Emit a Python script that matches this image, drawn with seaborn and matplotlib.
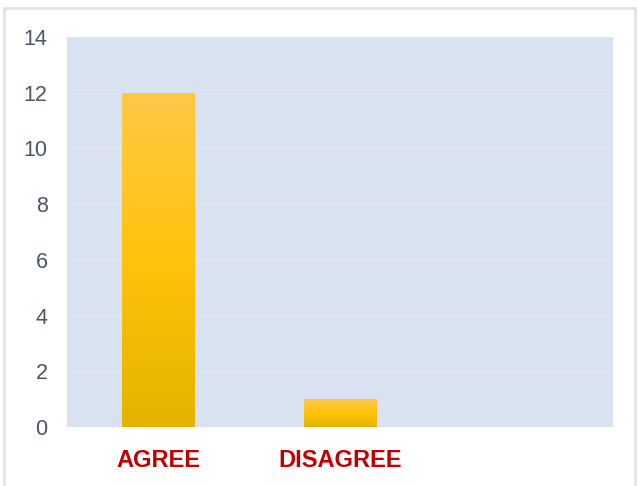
import numpy as np
import pandas as pd
import seaborn as sns
import matplotlib.pyplot as plt
from matplotlib.patches import Rectangle
from matplotlib.colors import LinearSegmentedColormap

categories = ["AGREE", "DISAGREE", ""]
counts = [12, 1, 0]
y_ticks = [0, 2, 4, 6, 8, 10, 12, 14]

df = pd.DataFrame({"answer": categories, "count": counts})

sns.set_theme(style="white")
plt.rcParams["font.family"] = ["Liberation Sans", "DejaVu Sans"]

fig = plt.figure(figsize=(6.38, 4.86), dpi=100)
ax = fig.add_axes([67 / 638, 59 / 486, 546 / 638, 390 / 486])

# thin frame around the whole picture
fig.patches.append(Rectangle((4 / 638, -0.05), 631 / 638, 1.05 - 8 / 486,
                             transform=fig.transFigure, fill=False,
                             edgecolor="#E3E3E6", linewidth=2))

ax.set_facecolor("#D9E2F1")
sns.barplot(data=df, x="answer", y="count", order=categories, width=0.4,
            color="#FFC000", linewidth=0, ax=ax, zorder=2)

# vertical gradient inside each bar
grad = LinearSegmentedColormap.from_list("g", ["#E4B300", "#FFC30A", "#FFC847"])
for p in ax.patches:
    h = p.get_height()
    if h <= 0:
        p.set_visible(False)
        continue
    x0 = p.get_x()
    w = p.get_width()
    img = ax.imshow(np.linspace(0, 1, 256).reshape(-1, 1), cmap=grad,
                    origin="lower", aspect="auto",
                    extent=(x0, x0 + w, 0, h), zorder=3)
    img.set_clip_path(p)

ax.set_xlim(-0.5, 2.5)
ax.set_ylim(0, 14)
ax.set_yticks(y_ticks)
ax.yaxis.grid(True, color="#DFE6F3", linewidth=1)
ax.set_axisbelow(True)
for s in ax.spines.values():
    s.set_visible(False)

ax.set_xlabel("")
ax.set_ylabel("")
ax.tick_params(axis="y", length=0, pad=14, labelsize=15.5, labelcolor="#4A5566")
ax.tick_params(axis="x", length=0, pad=16)
for lab in ax.get_xticklabels():
    lab.set_fontsize(17)
    lab.set_fontweight("bold")
    lab.set_color("#C00000")

fig.savefig("out.png", dpi=100)
